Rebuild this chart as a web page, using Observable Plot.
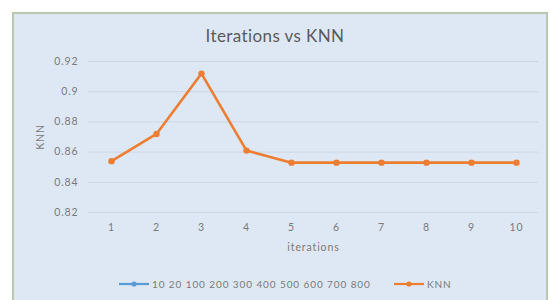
<!DOCTYPE html>
<html>
<head>
<meta charset="utf-8">
<script src="https://cdn.jsdelivr.net/npm/d3@7"></script>
<script src="https://cdn.jsdelivr.net/npm/@observablehq/plot@0.6"></script>
<style>
  html, body { margin: 0; padding: 0; background: #fff; width: 550px; height: 300px; overflow: hidden; }
  #frame { position: absolute; left: 12px; top: 12px; width: 532px; height: 300px; background: #dee8f4; border: 2px solid #bcc8ad; }
  #title { position: absolute; left: 0; top: 25px; width: 550px; text-align: center; font-family: Lato, "Open Sans", sans-serif; font-size: 17px; letter-spacing: 0.4px; color: #5a5a5a; }
  #chart { position: absolute; left: 0; top: 40px; }
  #legend { position: absolute; top: 278px; left: 0; width: 550px; font-family: Lato, "Open Sans", sans-serif; font-size: 10px; letter-spacing: 0.9px; color: #7a7a7a; }
  .item { position: absolute; display: flex; align-items: center; white-space: nowrap; }
  .item svg { margin-right: 2px; }
</style>
</head>
<body>
<div id="frame"></div>
<div id="title">Iterations vs KNN</div>
<div id="chart"></div>
<div id="legend"></div>
<script>
const iterations = [1, 2, 3, 4, 5, 6, 7, 8, 9, 10];
const knn = [0.854, 0.872, 0.912, 0.861, 0.853, 0.853, 0.853, 0.853, 0.853, 0.853];
const yTicks = [0.82, 0.84, 0.86, 0.88, 0.9, 0.92];
const seriesNames = ["10 20 100 200 300 400 500 600 700 800", "KNN"];
const seriesColors = ["#5b9bd5", "#ed7d31"];

const data = iterations.map((it, i) => ({iteration: it, knn: knn[i]}));

const chart = Plot.plot({
  width: 550,
  height: 217,
  marginLeft: 88,
  marginRight: 12,
  marginTop: 21,
  marginBottom: 45,
  style: { background: "transparent", fontFamily: "Lato, 'Open Sans', sans-serif", fontSize: "10.5px", letterSpacing: "0.9px", color: "#7a7a7a" },
  x: { type: "point", domain: iterations, padding: 0.5 },
  y: { domain: [0.82, 0.92] },
  marks: [
    Plot.ruleY(yTicks, { stroke: "#cdd6e2", strokeWidth: 1 }),
    Plot.axisX({ tickSize: 0, tickPadding: 11, fontSize: 10.5, label: "iterations", labelAnchor: "center", labelOffset: 38, labelArrow: "none" }),
    Plot.axisY(yTicks, { tickSize: 0, tickPadding: 10, fontSize: 10.5, tickFormat: d => String(+d.toFixed(2)), label: "KNN", labelAnchor: "center", labelOffset: 52, labelArrow: "none" }),
    Plot.line(data, { x: "iteration", y: "knn", stroke: seriesColors[1], strokeWidth: 2.6 }),
    Plot.dot(data, { x: "iteration", y: "knn", fill: seriesColors[1], r: 3.2 })
  ]
});
document.getElementById("chart").appendChild(chart);

const legend = document.getElementById("legend");
const positions = [118, 393];
seriesNames.forEach((name, i) => {
  const item = document.createElement("div");
  item.className = "item";
  item.style.left = positions[i] + "px";
  item.innerHTML = `<svg width="32" height="10"><line x1="1" y1="5" x2="31" y2="5" stroke="${seriesColors[i]}" stroke-width="2.2"/><circle cx="16" cy="5" r="2.6" fill="${seriesColors[i]}"/></svg><span>${name}</span>`;
  legend.appendChild(item);
});
</script>
</body>
</html>
